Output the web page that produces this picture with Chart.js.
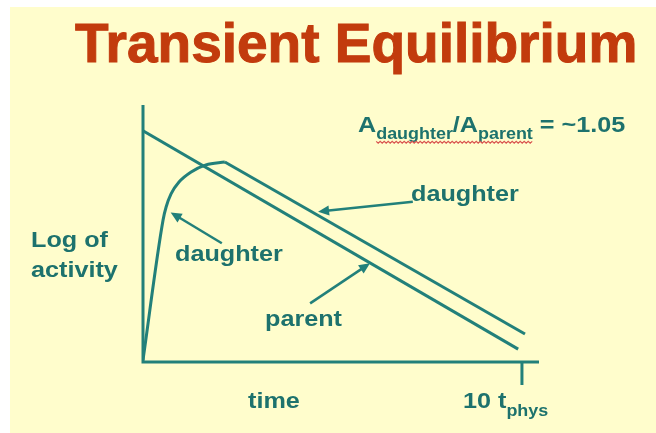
<!DOCTYPE html>
<html>
<head>
<meta charset="utf-8">
<script src="https://cdn.jsdelivr.net/npm/chart.js@4.4.1/dist/chart.umd.min.js"></script>
<style>
  html, body { margin: 0; padding: 0; background: #fff; }
</style>
</head>
<body>
<canvas id="myChart" width="656" height="433"></canvas>
<script>
// time in units of t_phys, activity as log (arbitrary units)
var parentTime = [0, 9.9];
var parentLog = [9.0, 0.5];
var daughterTime = [0, 0.53, 0.61, 0.74, 0.95, 1.27, 1.66, 2.16, 10.08];
var daughterLog = [0.08, 5.53, 6.03, 6.54, 7.0, 7.39, 7.67, 7.78, 1.09];
var tickValues = [10];

var teal = '#22807a';
var tealText = '#1d726d';
var font = '"Liberation Sans", Arial, sans-serif';

function toPoints(xs, ys) {
  return xs.map(function (x, i) { return { x: x, y: ys[i] }; });
}

// the daughter grows in a smooth curve up to its peak, then decays in a straight line
var peakIdx = daughterLog.indexOf(Math.max.apply(null, daughterLog));
var daughterPts = toPoints(daughterTime, daughterLog);
var daughterRise = daughterPts.slice(0, peakIdx + 1);
var daughterFall = daughterPts.slice(peakIdx);

function stretchText(ctx, text, x, y, size, sx) {
  ctx.save();
  ctx.font = 'bold ' + size + 'px ' + font;
  ctx.translate(x, y);
  ctx.scale(sx, 1);
  ctx.fillText(text, 0, 0);
  var w = ctx.measureText(text).width * sx;
  ctx.restore();
  return w;
}

function arrow(ctx, x0, y0, x1, y1) {
  var ang = Math.atan2(y1 - y0, x1 - x0);
  ctx.beginPath();
  ctx.moveTo(x0, y0);
  ctx.lineTo(x1 - 6 * Math.cos(ang), y1 - 6 * Math.sin(ang));
  ctx.stroke();
  ctx.beginPath();
  ctx.moveTo(x1, y1);
  ctx.lineTo(x1 - 11 * Math.cos(ang) + 5 * Math.sin(ang), y1 - 11 * Math.sin(ang) - 5 * Math.cos(ang));
  ctx.lineTo(x1 - 11 * Math.cos(ang) - 5 * Math.sin(ang), y1 - 11 * Math.sin(ang) + 5 * Math.cos(ang));
  ctx.closePath();
  ctx.fill();
}

var slideDecor = {
  id: 'slideDecor',
  beforeDraw: function (chart) {
    var ctx = chart.ctx;
    ctx.save();
    ctx.fillStyle = '#fffdcc';
    ctx.fillRect(10, 7, chart.width - 10, chart.height - 7);
    ctx.restore();
  },
  afterDraw: function (chart) {
    var ctx = chart.ctx;
    var xs = chart.scales.x, ys = chart.scales.y;
    var a = chart.chartArea;
    ctx.save();
    ctx.strokeStyle = teal;
    ctx.fillStyle = teal;
    ctx.lineWidth = 3;
    ctx.lineCap = 'butt';

    // axes
    ctx.beginPath();
    ctx.moveTo(a.left, a.top);
    ctx.lineTo(a.left, a.bottom);
    ctx.lineTo(a.right, a.bottom);
    ctx.stroke();
    tickValues.forEach(function (v) {
      var px = xs.getPixelForValue(v);
      ctx.beginPath();
      ctx.moveTo(px, a.bottom);
      ctx.lineTo(px, a.bottom + 23);
      ctx.stroke();
    });

    // arrows (data units)
    ctx.lineWidth = 2.5;
    var arrows = [
      [7.12, 6.24, 4.62, 5.85],
      [2.08, 4.62, 0.73, 5.82],
      [4.41, 2.28, 5.99, 3.84]
    ];
    arrows.forEach(function (r) {
      arrow(ctx, xs.getPixelForValue(r[0]), ys.getPixelForValue(r[1]),
        xs.getPixelForValue(r[2]), ys.getPixelForValue(r[3]));
    });

    // title
    ctx.fillStyle = '#c23b0d';
    ctx.strokeStyle = '#c23b0d';
    ctx.lineWidth = 1;
    ctx.textBaseline = 'alphabetic';
    ctx.textAlign = 'left';
    ctx.font = 'bold 55px ' + font;
    ctx.fillText('Transient Equilibrium', 75, 62);
    ctx.strokeText('Transient Equilibrium', 75, 62);

    // labels
    ctx.fillStyle = tealText;
    var sx = 1.12;
    stretchText(ctx, 'daughter', 411, 201, 22.5, sx);
    stretchText(ctx, 'daughter', 175, 261, 22.5, sx);
    stretchText(ctx, 'parent', 265, 326, 22.5, sx);
    stretchText(ctx, 'Log of', 31, 247, 22.5, sx);
    stretchText(ctx, 'activity', 31, 277, 22.5, sx);
    stretchText(ctx, 'time', 248, 408, 22.5, sx);
    var w = stretchText(ctx, '10 t', 463, 408, 22.5, sx);
    stretchText(ctx, 'phys', 463 + w, 416, 16, sx);

    // ratio
    var x = 358;
    x += stretchText(ctx, 'A', x, 132, 22.5, sx);
    var d0 = x;
    x += stretchText(ctx, 'daughter', x, 139, 16, sx);
    x += stretchText(ctx, '/A', x, 132, 22.5, sx);
    x += stretchText(ctx, 'parent', x, 139, 16, sx);
    var d1 = x;
    stretchText(ctx, ' = ~1.05', x, 132, 22.5, sx);

    // spell-check squiggle
    ctx.strokeStyle = '#d9534f';
    ctx.lineWidth = 1.2;
    ctx.beginPath();
    for (var i = d0; i <= d1; i += 2) {
      var yy = 142 + ((Math.round((i - d0) / 2) % 2) ? 1.2 : -0.6);
      if (i === d0) ctx.moveTo(i, yy); else ctx.lineTo(i, yy);
    }
    ctx.stroke();
    ctx.restore();
  }
};

var ctx = document.getElementById('myChart').getContext('2d');
var myChart = new Chart(ctx, {
  type: 'line',
  data: {
    datasets: [{
      label: 'parent',
      data: toPoints(parentTime, parentLog),
      borderColor: teal,
      borderWidth: 3,
      pointRadius: 0,
      tension: 0
    }, {
      label: 'daughter',
      data: daughterRise,
      borderColor: teal,
      borderWidth: 3,
      pointRadius: 0,
      cubicInterpolationMode: 'monotone'
    }, {
      label: 'daughter (decay)',
      data: daughterFall,
      borderColor: teal,
      borderWidth: 3,
      pointRadius: 0,
      tension: 0
    }]
  },
  options: {
    responsive: false,
    animation: false,
    devicePixelRatio: 1,
    layout: { padding: { left: 143, right: 117, top: 105, bottom: 71 } },
    plugins: {
      legend: { display: false },
      tooltip: { enabled: false }
    },
    scales: {
      x: { type: 'linear', min: 0, max: 10.45, display: false },
      y: { type: 'linear', min: 0, max: 10, display: false }
    }
  },
  plugins: [slideDecor]
});
</script>
</body>
</html>
